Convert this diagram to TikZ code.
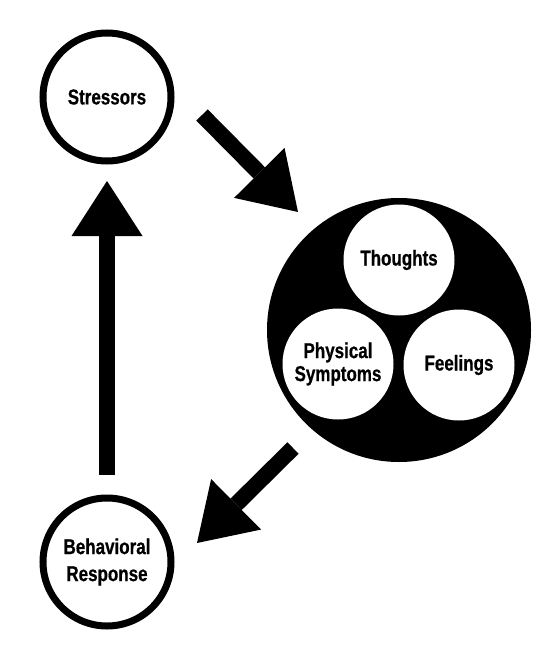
\documentclass[tikz,border=0pt]{standalone}
\usepackage{fontspec}
\setmainfont{Liberation Sans}[FakeStretch=0.79, BoldFeatures={FakeBold=0.6}]
\usetikzlibrary{arrows.meta}
\begin{document}
\begin{tikzpicture}[x=1pt,y=-1pt,
  lbl/.style={font=\fontsize{21.5}{23}\selectfont\bfseries, align=center},
  ring/.style={circle, draw=black, line width=7pt, fill=white, minimum size=128pt, inner sep=0pt},
  blob/.style={circle, fill=black, minimum size=264pt, inner sep=0pt},
  sub/.style={circle, fill=white, minimum size=111pt, inner sep=0pt},
  bigarrow/.style={line width=16pt, line cap=butt, -{Triangle[length=55pt,width=71pt,line width=0pt]}}]
\useasboundingbox (0,0) rectangle (558,655);
\fill[white] (0,0) rectangle (558,655);
% main nodes
\node[ring, lbl] (stress) at (107,97) {Stressors};
\node[ring, lbl, font=\fontsize{21.5}{27}\selectfont\bfseries] (behav) at (107,562) {Behavioral\\Response};
\node[blob] (big) at (399,330) {};
\node[sub, lbl] (thought) at (399,260) {Thoughts};
\node[sub, lbl] (phys) at (338,364) {Physical\\Symptoms};
\node[sub, lbl] (feel) at (459,365) {Feelings};
% arrow end points
\coordinate (a1s) at (202,115);
\coordinate (a1e) at (298,212);
\coordinate (a2s) at (293,448);
\coordinate (a2e) at (197,543);
\coordinate (a3s) at (107,475);
\coordinate (a3e) at (107,181);
\draw[bigarrow] (a1s) -- (a1e);
\draw[bigarrow] (a2s) -- (a2e);
\draw[bigarrow] (a3s) -- (a3e);
\end{tikzpicture}
\end{document}
